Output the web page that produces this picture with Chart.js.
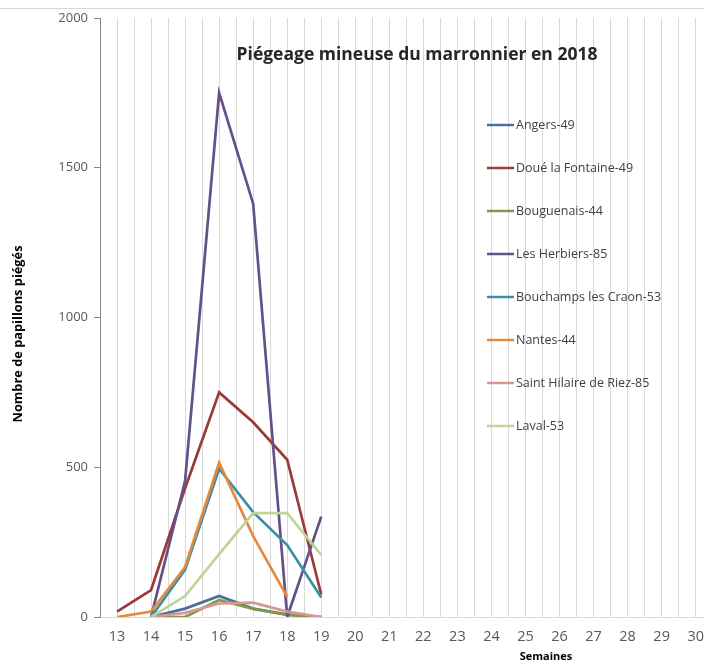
<!DOCTYPE html>
<html>
<head>
<meta charset="utf-8">
<script src="https://cdn.jsdelivr.net/npm/chart.js@4/dist/chart.umd.min.js"></script>
<style>
  html, body { margin: 0; padding: 0; background: #fff; }
  #wrap { width: 704px; height: 664px; overflow: hidden; position: relative; }
  canvas { display: block; }
</style>
</head>
<body>
<div id="wrap"><canvas id="c" width="1000" height="664"></canvas></div>
<script>
// Trapping weeks with counts, and the full week range of the axis
const weeks = [13, 14, 15, 16, 17, 18, 19];
const firstWeek = 13;
const lastWeek = 38;

const siteNames = [
  'Angers-49',
  'Doué la Fontaine-49',
  'Bouguenais-44',
  'Les Herbiers-85',
  'Bouchamps les Craon-53',
  'Nantes-44',
  'Saint Hilaire de Riez-85',
  'Laval-53'
];

// Moths caught per week (null = no reading)
const angers        = [null, 0,  28,   70,   28,   8,   0];
const doueFontaine  = [18,   90, 430,  750,  650,  525, 75];
const bouguenais    = [null, 0,  0,    57,   27,   7,   0];
const lesHerbiers   = [null, 0,  455,  1750, 1380, 0,   335];
const bouchamps     = [null, 0,  158,  495,  350,  240, 65];
const nantes        = [0,    18, 167,  515,  270,  67,  null];
const saintHilaire  = [null, 0,  14,   45,   48,   18,  0];
const laval         = [null, 0,  70,   210,  347,  347, 207];

const yTicks = [0, 500, 1000, 1500, 2000];

const seriesValues = [angers, doueFontaine, bouguenais, lesHerbiers, bouchamps, nantes, saintHilaire, laval];
const seriesColors = ['#4A6F9C', '#9A3B38', '#7F9A45', '#65508A', '#3C8EA6', '#E58A3C', '#D99694', '#BFD39A'];

const datasets = seriesValues.map((vals, i) => ({
  label: siteNames[i],
  data: weeks.map((w, k) => ({ x: w, y: vals[k] })),
  borderColor: seriesColors[i],
  backgroundColor: seriesColors[i],
  borderWidth: 2.7,
  pointRadius: 0,
  tension: 0,
  spanGaps: false,
  order: seriesValues.length - i
}));

const FONT = '"Open Sans", "Liberation Sans", sans-serif';

// Titles, frame line and legend drawn over the plot
const decorations = {
  id: 'decorations',
  afterDraw(chart) {
    const ctx = chart.ctx;
    ctx.save();
    // outer frame line
    ctx.strokeStyle = '#D9D9D9';
    ctx.lineWidth = 1;
    ctx.beginPath();
    ctx.moveTo(0, 8.5);
    ctx.lineTo(chart.width, 8.5);
    ctx.stroke();

    // chart title
    ctx.fillStyle = '#262626';
    ctx.font = 'bold 17.5px ' + FONT;
    ctx.textAlign = 'center';
    ctx.textBaseline = 'middle';
    ctx.fillText('Piégeage mineuse du marronnier en 2018', 417, 55);

    // axis titles
    ctx.fillStyle = '#000';
    ctx.font = 'bold 11px ' + FONT;
    ctx.fillText('Semaines', 546, 657);
    ctx.save();
    ctx.translate(18, 334);
    ctx.rotate(-Math.PI / 2);
    ctx.font = 'bold 12.8px ' + FONT;
    ctx.fillText('Nombre de papillons piégés', 0, 0);
    ctx.restore();

    // legend
    ctx.font = '12.5px ' + FONT;
    ctx.textAlign = 'left';
    chart.data.datasets.forEach((ds, i) => {
      const y = 125 + 43 * i;
      ctx.strokeStyle = ds.borderColor;
      ctx.lineWidth = 2.5;
      ctx.beginPath();
      ctx.moveTo(487, y);
      ctx.lineTo(514, y);
      ctx.stroke();
      ctx.fillStyle = '#404040';
      ctx.fillText(ds.label, 516, y + 0.5);
    });
    ctx.restore();
  }
};

new Chart(document.getElementById('c'), {
  type: 'line',
  data: { datasets },
  options: {
    responsive: false,
    animation: false,
    layout: { padding: { top: 18, right: 15, left: 0, bottom: 0 } },
    plugins: {
      legend: { display: false },
      title: { display: false },
      tooltip: { enabled: false }
    },
    scales: {
      x: {
        type: 'linear',
        min: firstWeek - 0.5,
        max: lastWeek + 0.5,
        afterFit(s) { s.height = 47; },
        afterBuildTicks(s) {
          const t = [];
          for (let v = firstWeek - 0.5; v <= lastWeek + 0.5 + 1e-9; v += 0.5) t.push({ value: v });
          s.ticks = t;
        },
        grid: { color: '#D9D9D9', lineWidth: 1, drawTicks: false },
        border: { color: '#D9D9D9', width: 1 },
        ticks: {
          autoSkip: false,
          maxRotation: 0,
          padding: 11,
          color: '#595959',
          font: { family: FONT, size: 14.5 },
          callback: v => Number.isInteger(v) ? String(v) : ''
        }
      },
      y: {
        min: 0,
        max: 2000,
        afterFit(s) { s.width = 100; },
        afterBuildTicks(s) { s.ticks = yTicks.map(v => ({ value: v })); },
        grid: { drawOnChartArea: false, drawTicks: true, tickLength: 6, color: '#868686' },
        border: { color: '#868686', width: 1 },
        ticks: {
          padding: 6,
          color: '#595959',
          font: { family: FONT, size: 13 },
          callback: v => String(v)
        }
      }
    }
  },
  plugins: [decorations]
});
</script>
</body>
</html>
